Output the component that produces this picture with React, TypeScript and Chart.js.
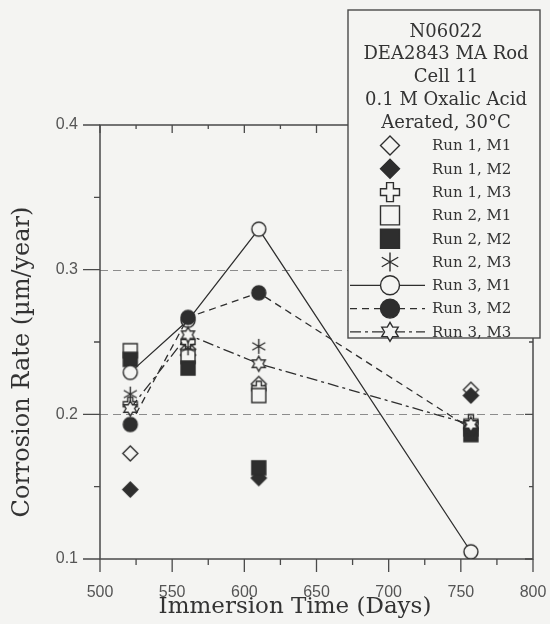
import { useEffect, useRef } from 'react';
import { Chart, registerables } from 'chart.js';
Chart.register(...registerables);

// ---------- data ----------
const days = [521, 561, 610, 757];
const run1M1 = [0.173, 0.245, 0.221, 0.217];
const run1M2 = [0.148, 0.241, 0.156, 0.213];
const run1M3 = [0.207, 0.25, 0.218, 0.195];
const run2M1 = [0.244, 0.24, 0.213, 0.19];
const run2M2 = [0.238, 0.232, 0.163, 0.186];
const run2M3 = [0.214, 0.246, 0.247, 0.192];
const run3M1 = [0.229, 0.265, 0.328, 0.105];
const run3M2 = [0.193, 0.267, 0.284, 0.19];
const run3M3 = [0.204, 0.255, 0.235, 0.193];

const seriesNames = ['Run 1, M1', 'Run 1, M2', 'Run 1, M3', 'Run 2, M1', 'Run 2, M2', 'Run 2, M3', 'Run 3, M1', 'Run 3, M2', 'Run 3, M3'];
const seriesValues = [run1M1, run1M2, run1M3, run2M1, run2M2, run2M3, run3M1, run3M2, run3M3];
const seriesMarkers = ['diamondOpen', 'diamondFilled', 'crossOpen', 'squareOpen', 'squareFilled', 'asterisk', 'circleOpen', 'circleFilled', 'hexagram'];
const seriesLine = ['none', 'none', 'none', 'none', 'none', 'none', 'solid', 'dashed', 'dashdot'];

const legendTitle = ['N06022', 'DEA2843 MA Rod', 'Cell 11', '0.1 M Oxalic Acid', 'Aerated, 30°C'];
const xMin = 500, xMax = 800, xStep = 50;
const yMin = 0.1, yMax = 0.4, yStep = 0.1;
const gridValues = [0.2, 0.3];
const xTitle = 'Immersion Time (Days)';
const yTitle = 'Corrosion Rate (µm/year)';

// ---------- styles ----------
const BG = '#f4f4f2';
const INK = '#2e2e2e';
const FRAME = '#4a4a4a';
const SERIF = '"DejaVu Serif", serif';
const SANS = '"Liberation Sans", Arial, sans-serif';

const dashFor = (s: string) => (s === 'dashed' ? [7, 5] : s === 'dashdot' ? [11, 4, 3, 4] : []);

function drawMarker(ctx: CanvasRenderingContext2D, kind: string, cx: number, cy: number, s: number) {
  ctx.save();
  ctx.translate(cx, cy);
  ctx.strokeStyle = INK;
  ctx.fillStyle = BG;
  ctx.lineWidth = 1.4;
  ctx.setLineDash([]);
  const filled = kind.endsWith('Filled');
  ctx.beginPath();
  if (kind.startsWith('diamond')) {
    ctx.moveTo(0, -s); ctx.lineTo(s, 0); ctx.lineTo(0, s); ctx.lineTo(-s, 0); ctx.closePath();
  } else if (kind.startsWith('square')) {
    ctx.rect(-s, -s, 2 * s, 2 * s);
  } else if (kind.startsWith('circle')) {
    ctx.arc(0, 0, s, 0, Math.PI * 2);
  } else if (kind === 'crossOpen') {
    const a = s * 0.36;
    const pts = [[-a, -s], [a, -s], [a, -a], [s, -a], [s, a], [a, a], [a, s], [-a, s], [-a, a], [-s, a], [-s, -a], [-a, -a]];
    pts.forEach((p, i) => (i ? ctx.lineTo(p[0], p[1]) : ctx.moveTo(p[0], p[1])));
    ctx.closePath();
  } else if (kind === 'hexagram') {
    const ri = s / Math.sqrt(3);
    for (let i = 0; i < 12; i++) {
      const ang = -Math.PI / 2 + (i * Math.PI) / 6;
      const r = i % 2 === 0 ? s : ri;
      const px = r * Math.cos(ang), py = r * Math.sin(ang);
      i ? ctx.lineTo(px, py) : ctx.moveTo(px, py);
    }
    ctx.closePath();
  } else if (kind === 'asterisk') {
    for (let i = 0; i < 3; i++) {
      const ang = -Math.PI / 2 + (i * Math.PI) / 3;
      ctx.moveTo(s * Math.cos(ang), s * Math.sin(ang));
      ctx.lineTo(-s * Math.cos(ang), -s * Math.sin(ang));
    }
    ctx.stroke();
    ctx.restore();
    return;
  }
  if (filled) ctx.fillStyle = INK;
  ctx.fill();
  ctx.stroke();
  ctx.restore();
}

function markerCanvas(kind: string, s: number) {
  const c = document.createElement('canvas');
  const size = Math.ceil(2 * s + 4);
  c.width = size; c.height = size;
  const ctx = c.getContext('2d')!;
  drawMarker(ctx, kind, size / 2, size / 2, s);
  return c;
}

const markerSize: Record<string, number> = {
  diamondOpen: 7.5, diamondFilled: 7.5, crossOpen: 7, squareOpen: 7, squareFilled: 7,
  asterisk: 7.5, circleOpen: 7, circleFilled: 7, hexagram: 7.5,
};

const framePlugin = {
  id: 'frame',
  beforeDatasetsDraw(chart: any) {
    const { ctx, chartArea } = chart;
    const { left, right, top, bottom } = chartArea;
    const xs = chart.scales.x, ys = chart.scales.y;
    ctx.save();
    ctx.strokeStyle = '#8c8c8c';
    ctx.lineWidth = 1.2;
    ctx.setLineDash([8, 5]);
    gridValues.forEach((v) => {
      const y = Math.round(ys.getPixelForValue(v)) + 0.5;
      ctx.beginPath(); ctx.moveTo(left, y); ctx.lineTo(right, y); ctx.stroke();
    });
    ctx.setLineDash([]);
    ctx.strokeStyle = FRAME;
    ctx.lineWidth = 1.5;
    ctx.strokeRect(left, top, right - left, bottom - top);
    ctx.lineWidth = 1.3;
    for (let v = xMin; v <= xMax; v += xStep / 2) {
      const x = xs.getPixelForValue(v);
      const major = (v - xMin) % xStep === 0;
      ctx.beginPath();
      ctx.moveTo(x, bottom); ctx.lineTo(x, bottom + (major ? 13 : 6));
      ctx.moveTo(x, top); ctx.lineTo(x, top + (major ? 8 : 4));
      ctx.stroke();
    }
    for (let i = 0; i <= 6; i++) {
      const v = yMin + (i * yStep) / 2;
      const y = ys.getPixelForValue(v);
      const major = i % 2 === 0;
      ctx.beginPath();
      ctx.moveTo(left - (major ? 17 : 6), y); ctx.lineTo(left, y);
      ctx.moveTo(right - (major ? 8 : 4), y); ctx.lineTo(right, y);
      ctx.stroke();
    }
    ctx.restore();
  },
  afterDraw(chart: any) {
    const { ctx } = chart;
    ctx.save();
    // axis titles
    ctx.fillStyle = '#333';
    ctx.font = `23px ${SERIF}`;
    ctx.textAlign = 'center';
    ctx.textBaseline = 'middle';
    ctx.fillText(xTitle, 295, 607);
    ctx.save();
    ctx.translate(23, 362);
    ctx.rotate(-Math.PI / 2);
    ctx.font = `24px ${SERIF}`;
    ctx.fillText(yTitle, 0, 0);
    ctx.restore();
    // legend
    const bx = 348, by = 10, bw = 192, bh = 328;
    ctx.fillStyle = BG;
    ctx.fillRect(bx, by, bw, bh);
    ctx.strokeStyle = FRAME;
    ctx.lineWidth = 1.4;
    ctx.strokeRect(bx, by, bw, bh);
    ctx.fillStyle = '#333';
    ctx.font = `18px ${SERIF}`;
    ctx.textAlign = 'center';
    legendTitle.forEach((t, i) => ctx.fillText(t, bx + bw / 2 + 2, 32 + i * 22.8));
    ctx.font = `15px ${SERIF}`;
    ctx.textAlign = 'left';
    seriesNames.forEach((name, i) => {
      const y = 145.5 + i * 23.3;
      const ls = seriesLine[i];
      if (ls !== 'none') {
        ctx.save();
        ctx.strokeStyle = INK;
        ctx.lineWidth = 1.2;
        ctx.setLineDash(dashFor(ls));
        ctx.beginPath(); ctx.moveTo(bx + 2, y); ctx.lineTo(425, y); ctx.stroke();
        ctx.restore();
      }
      drawMarker(ctx, seriesMarkers[i], 390, y, 9.5);
      ctx.fillStyle = '#333';
      ctx.fillText(name, 432, y + 1);
    });
    ctx.restore();
  },
};

export default function App() {
  const ref = useRef<HTMLCanvasElement>(null);
  useEffect(() => {
    document.body.style.margin = '0';
    document.body.style.background = BG;
    const datasets = seriesNames.map((name, i) => {
      const kind = seriesMarkers[i];
      const ls = seriesLine[i];
      return {
        label: name,
        data: days.map((d, j) => ({ x: d, y: seriesValues[i][j] })),
        showLine: ls !== 'none',
        borderColor: INK,
        borderWidth: 1.3,
        borderDash: dashFor(ls),
        pointStyle: markerCanvas(kind, markerSize[kind]),
        pointRadius: 8,
        order: 20 - i,
      };
    });
    const chart = new Chart(ref.current!, {
      type: 'scatter',
      data: { datasets },
      plugins: [framePlugin],
      options: {
        animation: false,
        responsive: false,
        events: [],
        layout: { padding: { left: 0, right: 17, top: 125, bottom: 0 } },
        plugins: { legend: { display: false }, tooltip: { enabled: false } },
        scales: {
          x: {
            type: 'linear', min: xMin, max: xMax,
            grid: { display: false, drawTicks: false },
            border: { display: false },
            ticks: { stepSize: xStep, padding: 24, color: '#555', font: { family: SANS, size: 16 } },
            afterFit: (s: any) => { s.height = 65; s.paddingLeft = 0; s.paddingRight = 0; },
          },
          y: {
            type: 'linear', min: yMin, max: yMax,
            grid: { display: false, drawTicks: false },
            border: { display: false },
            ticks: { stepSize: yStep, padding: 22, color: '#555', font: { family: SANS, size: 16 }, callback: (v: any) => Number(v).toFixed(1) },
            afterFit: (s: any) => { s.width = 100; s.paddingTop = 0; s.paddingBottom = 0; },
          },
        },
      },
    });
    return () => chart.destroy();
  }, []);
  return <canvas ref={ref} width={550} height={624} style={{ display: 'block', background: BG }} />;
}
